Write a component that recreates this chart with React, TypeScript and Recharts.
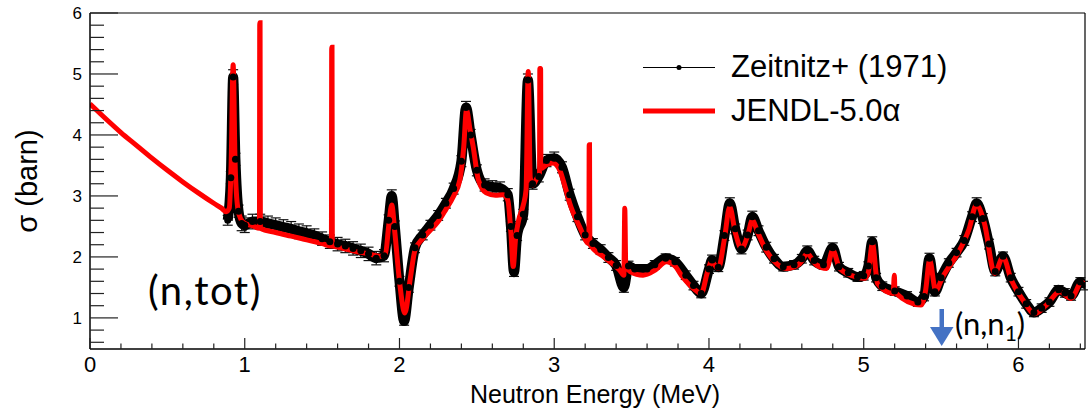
import React from 'react';
import { LineChart, Line, XAxis, YAxis, ErrorBar, ReferenceLine } from 'recharts';

const W = 1088;
const H = 414;
const FONT = 'Liberation Sans, Arial, Helvetica, sans-serif';

// Zeitnitz+ (1971) measured total cross section (MeV, barn)
const expEnergy = [
  0.89, 0.91, 0.925, 0.94, 0.96, 0.98, 1.0, 1.05, 1.1, 1.15, 1.2, 1.25, 1.3, 1.35, 1.4, 1.45, 1.5, 1.55, 1.6, 1.65,
  1.7, 1.75, 1.8, 1.85, 1.9, 1.93, 1.95, 1.97, 2.0, 2.03, 2.06, 2.1, 2.15, 2.2, 2.25, 2.3, 2.35, 2.4, 2.43, 2.46,
  2.5, 2.55, 2.6, 2.65, 2.7, 2.72, 2.74, 2.76, 2.8, 2.83, 2.86, 2.9, 2.95, 3.0, 3.05, 3.1, 3.15, 3.2, 3.25, 3.3,
  3.35, 3.4, 3.45, 3.48, 3.52, 3.6, 3.65, 3.72, 3.78, 3.85, 3.9, 3.95, 4.0, 4.02, 4.06, 4.1, 4.135, 4.17, 4.21, 4.25,
  4.28, 4.32, 4.37, 4.42, 4.48, 4.55, 4.6, 4.635, 4.68, 4.74, 4.8, 4.84, 4.9, 4.96, 5.0, 5.03, 5.055, 5.08, 5.12, 5.2,
  5.28, 5.35, 5.39, 5.425, 5.46, 5.5, 5.55, 5.6, 5.65, 5.7, 5.73, 5.77, 5.81, 5.85, 5.9, 5.95, 6.0, 6.05, 6.1, 6.15,
  6.2, 6.26, 6.3, 6.34, 6.4, 6.43,
];
const expSigma = [
  2.6, 3.3, 4.95, 3.6, 2.75, 2.55, 2.52, 2.58, 2.58, 2.55, 2.52, 2.49, 2.46, 2.42, 2.39, 2.35, 2.3, 2.25, 2.21, 2.18,
  2.14, 2.1, 2.05, 1.98, 2.02, 2.6, 3.0, 2.5, 1.6, 0.95, 1.5, 2.15, 2.36, 2.52, 2.68, 2.88, 3.12, 3.57, 4.45, 4.0,
  3.42, 3.18, 3.15, 3.13, 3.02, 2.5, 1.75, 2.35, 2.7, 4.9, 3.2, 3.32, 3.58, 3.62, 3.47, 3.02, 2.66, 2.36, 2.22, 2.12,
  1.99, 1.86, 1.5, 1.85, 1.8, 1.8, 1.87, 1.98, 1.92, 1.7, 1.53, 1.4, 1.8, 1.95, 1.83, 2.35, 2.88, 2.46, 2.13, 2.36,
  2.66, 2.43, 2.16, 1.97, 1.84, 1.87, 1.97, 2.1, 1.94, 1.87, 2.15, 1.84, 1.74, 1.67, 1.69, 1.85, 2.25, 1.66, 1.52, 1.44,
  1.36, 1.26, 1.35, 1.98, 1.43, 1.66, 1.9, 2.07, 2.27, 2.66, 2.88, 2.63, 2.21, 1.76, 2.01, 1.66, 1.43, 1.23, 1.09, 1.16,
  1.26, 1.46, 1.41, 1.36, 1.59, 1.53,
];
const expErr = [
  0.08, 0.1, 0.12, 0.1, 0.1, 0.12, 0.12, 0.12, 0.12, 0.12, 0.12, 0.12, 0.12, 0.12, 0.12, 0.11, 0.11, 0.11, 0.11, 0.11,
  0.11, 0.11, 0.11, 0.11, 0.1, 0.09, 0.1, 0.09, 0.08, 0.07, 0.08, 0.08, 0.08, 0.08, 0.08, 0.08, 0.09, 0.09, 0.1, 0.09,
  0.09, 0.1, 0.1, 0.1, 0.1, 0.08, 0.07, 0.08, 0.08, 0.1, 0.09, 0.09, 0.1, 0.1, 0.09, 0.09, 0.08, 0.08, 0.08, 0.08,
  0.08, 0.08, 0.08, 0.08, 0.07, 0.07, 0.07, 0.07, 0.07, 0.07, 0.07, 0.07, 0.07, 0.08, 0.07, 0.08, 0.09, 0.08, 0.08, 0.08,
  0.09, 0.08, 0.08, 0.07, 0.07, 0.07, 0.07, 0.08, 0.07, 0.07, 0.08, 0.07, 0.07, 0.07, 0.07, 0.07, 0.08, 0.07, 0.07, 0.07,
  0.07, 0.07, 0.07, 0.08, 0.07, 0.07, 0.07, 0.07, 0.08, 0.08, 0.09, 0.08, 0.08, 0.07, 0.07, 0.07, 0.07, 0.07, 0.07, 0.07,
  0.07, 0.07, 0.07, 0.07, 0.07, 0.07,
];

// JENDL-5.0alpha evaluation (MeV, barn)
const jendlEnergy = [
  0, 0.1, 0.2, 0.3, 0.4, 0.5, 0.6, 0.7, 0.8, 0.85, 0.88, 0.9, 0.912, 0.925, 0.938, 0.955, 0.975, 1.0, 1.05, 1.095,
  1.097, 1.099, 1.101, 1.2, 1.3, 1.4, 1.5, 1.56, 1.562, 1.564, 1.566, 1.6, 1.7, 1.8, 1.88, 1.91, 1.93, 1.95, 1.97, 2.0,
  2.035, 2.07, 2.1, 2.15, 2.2, 2.25, 2.3, 2.35, 2.39, 2.415, 2.433, 2.455, 2.476, 2.51, 2.56, 2.62, 2.67, 2.7, 2.72, 2.735,
  2.75, 2.77, 2.8, 2.818, 2.832, 2.845, 2.86, 2.89, 2.905, 2.907, 2.912, 2.914, 2.95, 2.99, 3.036, 3.07, 3.1, 3.165, 3.224, 3.226,
  3.228, 3.23, 3.32, 3.424, 3.45, 3.456, 3.462, 3.49, 3.574, 3.65, 3.725, 3.78, 3.83, 3.9, 3.95, 3.99, 4.016, 4.06, 4.1, 4.134,
  4.17, 4.21, 4.25, 4.28, 4.317, 4.36, 4.414, 4.5, 4.587, 4.634, 4.694, 4.76, 4.8, 4.845, 4.953, 5.006, 5.03, 5.056, 5.09, 5.19,
  5.198, 5.202, 5.37, 5.4, 5.426, 5.465, 5.51, 5.62, 5.68, 5.728, 5.78, 5.846, 5.9, 5.954, 6.03, 6.105, 6.18, 6.266, 6.34, 6.41,
  6.43,
];
const jendlSigma = [
  4.51, 4.27, 4.04, 3.83, 3.62, 3.42, 3.23, 3.05, 2.88, 2.8, 2.74, 2.8, 3.5, 5.15, 3.5, 2.8, 2.62, 2.55, 2.51, 2.47,
  5.84, 5.84, 2.47, 2.4, 2.34, 2.28, 2.22, 2.18, 5.44, 5.44, 2.18, 2.16, 2.1, 2.05, 2.01, 2.06, 2.5, 2.85, 2.4, 1.6,
  1.08, 1.65, 2.11, 2.3, 2.44, 2.58, 2.78, 3.0, 3.26, 3.8, 4.41, 4.1, 3.81, 3.26, 3.05, 3.01, 3.02, 2.93, 2.4, 1.84,
  2.3, 2.6, 2.85, 3.1, 5.04, 3.3, 3.18, 3.3, 3.35, 5.09, 5.09, 3.45, 3.51, 3.54, 3.42, 3.15, 2.88, 2.49, 2.22, 3.84,
  3.84, 2.21, 2.0, 1.78, 1.7, 2.8, 1.9, 1.76, 1.7, 1.78, 1.92, 1.85, 1.67, 1.48, 1.4, 1.75, 1.92, 1.81, 2.3, 2.82,
  2.4, 2.14, 2.35, 2.6, 2.39, 2.15, 1.95, 1.81, 1.89, 2.05, 1.87, 1.81, 2.11, 1.81, 1.67, 1.65, 1.75, 2.22, 1.56, 1.4,
  1.7, 1.42, 1.21, 1.45, 1.95, 1.45, 1.67, 2.11, 2.45, 2.85, 2.55, 1.73, 2.0, 1.62, 1.29, 1.07, 1.21, 1.43, 1.32, 1.59,
  1.52,
];

const xTicks = [
  0, 0.2, 0.4, 0.6, 0.8, 1, 1.2, 1.4, 1.6, 1.8, 2, 2.2, 2.4, 2.6, 2.8, 3, 3.2, 3.4, 3.6, 3.8, 4, 4.2, 4.4, 4.6, 4.8,
  5, 5.2, 5.4, 5.6, 5.8, 6, 6.2, 6.4,
];
const yTicks = [
  0.6, 0.8, 1, 1.2, 1.4, 1.6, 1.8, 2, 2.2, 2.4, 2.6, 2.8, 3, 3.2, 3.4, 3.6, 3.8, 4, 4.2, 4.4, 4.6, 4.8, 5, 5.2, 5.4,
  5.6, 5.8, 6,
];

const expData = expEnergy.map((e, i) => ({ e, s: expSigma[i], err: expErr[i] }));
const jendlData = jendlEnergy.map((e, i) => ({ e, s: jendlSigma[i] }));

const isMajor = (v: number) => Math.abs(v - Math.round(v)) < 1e-6;

// ROOT style: ticks drawn inward, labels only on integers
const XTick = (p: any) => {
  const v = p.payload.value;
  const major = isMajor(v);
  return (
    <g>
      <line x1={p.x} x2={p.x} y1={p.y} y2={p.y - (major ? 11 : 5.5)} stroke="#222" strokeWidth={1.2} />
      {major && (
        <text x={p.x} y={p.y + 23} textAnchor="middle" fontSize={22} fontFamily={FONT} fill="#000">
          {Math.round(v)}
        </text>
      )}
    </g>
  );
};

const YTick = (p: any) => {
  const v = p.payload.value;
  const major = isMajor(v);
  return (
    <g>
      <line x1={p.x} x2={p.x + (major ? 28 : 14)} y1={p.y} y2={p.y} stroke="#222" strokeWidth={1.2} />
      {major && (
        <text x={p.x - 8} y={p.y + 6} textAnchor="end" fontSize={17} fontFamily={FONT} fill="#000">
          {Math.round(v)}
        </text>
      )}
    </g>
  );
};

export default function App() {
  return (
    <div style={{ position: 'absolute', left: 0, top: 0, width: W, height: H, background: '#fff' }}>
      <LineChart width={W} height={H} margin={{ top: 13, right: 3, left: 0, bottom: 0 }}>
        <XAxis
          dataKey="e"
          type="number"
          domain={[0, 6.43]}
          allowDataOverflow
          ticks={xTicks}
          interval={0}
          tick={XTick}
          tickLine={false}
          tickSize={0}
          tickMargin={0}
          height={65}
          axisLine={{ stroke: '#000', strokeWidth: 1.5 }}
        />
        <YAxis
          dataKey="s"
          type="number"
          domain={[0.49, 6]}
          allowDataOverflow
          ticks={yTicks}
          interval={0}
          tick={YTick}
          tickLine={false}
          tickSize={0}
          tickMargin={0}
          width={90}
          axisLine={{ stroke: '#000', strokeWidth: 1.5 }}
        />
        <ReferenceLine y={6} stroke="#000" strokeWidth={1.2} ifOverflow="visible" />
        <ReferenceLine x={6.43} stroke="#000" strokeWidth={1.2} ifOverflow="visible" />
        <Line
          data={expData}
          dataKey="s"
          type="monotone"
          stroke="#000"
          strokeWidth={10}
          dot={{ r: 3.5, fill: '#000', stroke: '#000', strokeWidth: 0 }}
          activeDot={false}
          isAnimationActive={false}
        >
          <ErrorBar dataKey="err" width={5} stroke="#111" strokeWidth={1.2} direction="y" isAnimationActive={false} />
        </Line>
        <Line
          data={jendlData}
          dataKey="s"
          type="monotone"
          stroke="#ff0000"
          strokeWidth={5}
          dot={false}
          activeDot={false}
          isAnimationActive={false}
        />
      </LineChart>

      <svg width={W} height={H} style={{ position: 'absolute', left: 0, top: 0, pointerEvents: 'none' }}>
        {/* legend */}
        <line x1={643} x2={715} y1={67.5} y2={67.5} stroke="#000" strokeWidth={1} />
        <circle cx={679} cy={67.5} r={2.5} fill="#000" />
        <text x={731} y={77} fontSize={31} fontFamily={FONT} fill="#000">Zeitnitz+ (1971)</text>
        <line x1={643} x2={715} y1={111} y2={111} stroke="#ff0000" strokeWidth={5} />
        <text x={731} y={121} fontSize={31} fontFamily={FONT} fill="#000">JENDL-5.0α</text>

        {/* axis titles */}
        <text x={595} y={403} textAnchor="middle" fontSize={25} fontFamily={FONT} fill="#000">Neutron Energy (MeV)</text>
        <text x={37} y={181} textAnchor="middle" fontSize={29} fontFamily={FONT} fill="#000" transform="rotate(-90 37 181)">
          σ (barn)
        </text>

        {/* annotations */}
        <text x={148} y={305} fontSize={40} fontFamily="Lato, sans-serif" fill="#000" letterSpacing={1.5}>(n,tot)</text>
        <rect x={939.5} y={309} width={4.5} height={21} fill="#4472C4" />
        <polygon points="930,327 953.5,327 941.7,346" fill="#4472C4" />
        <text x={955} y={335} fontSize={31} fontFamily="Lato, sans-serif" fill="#000">
          (n,n
          <tspan fontSize={21} dy={6}>1</tspan>
          <tspan dy={-6}>)</tspan>
        </text>
      </svg>
    </div>
  );
}
